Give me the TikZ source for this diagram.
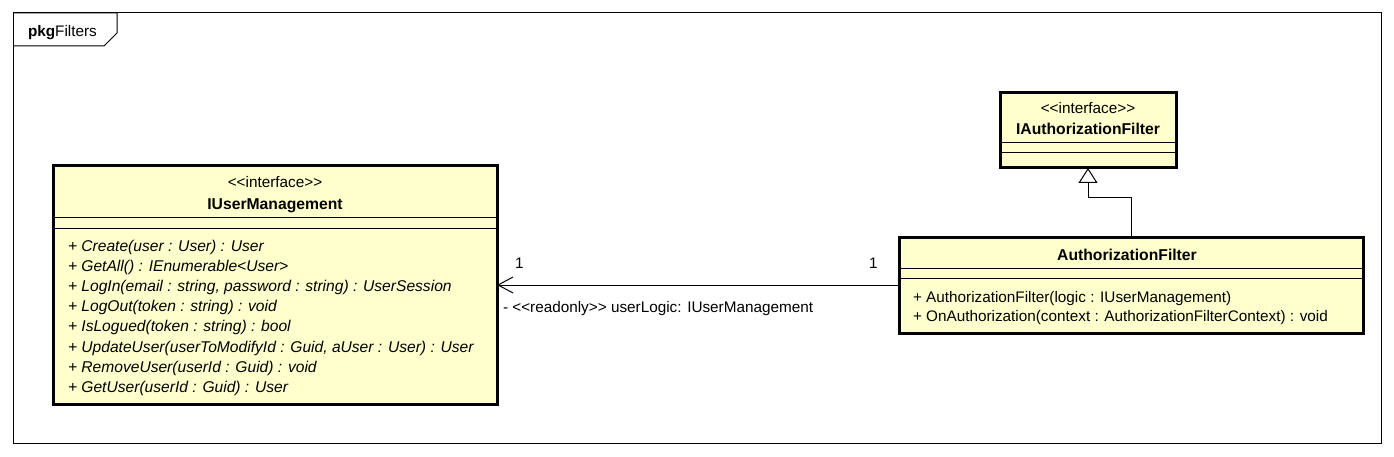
\documentclass[tikz,border=0pt]{standalone}
\usepackage{fontspec}
\setmainfont{Liberation Sans}
\usetikzlibrary{arrows.meta}
\definecolor{classfill}{RGB}{255,255,206}
\tikzset{
  classbox/.style={draw=black, line width=3pt, fill=classfill, inner sep=0pt, outer sep=0pt},
  sepline/.style={line width=1pt, draw=black},
  txt/.style={inner sep=0pt, outer sep=0pt, font=\fontsize{15.3}{20}\selectfont},
  btxt/.style={inner sep=0pt, outer sep=0pt, font=\fontsize{15.7}{20}\selectfont\bfseries},
  itxt/.style={inner sep=0pt, outer sep=0pt, font=\fontsize{15.6}{20}\selectfont\itshape},
  conn/.style={line width=1pt, draw=black},
}
\begin{document}
\begin{tikzpicture}[x=1pt,y=-1pt]
\useasboundingbox (0,0) rectangle (1394,457);
% package frame
\draw[line width=1pt] (13,13) rectangle (1381,443);
\draw[line width=1pt] (13,13) -- (117,13) -- (117,33) -- (104,46) -- (13,46);
\node[txt, anchor=base west] (pkg) at (28,37) {\textbf{pkg}Filters};

% IUserManagement
\node[classbox, minimum width=444pt, minimum height=238pt] (ium) at (275,285) {};
\draw[sepline] (ium.west |- 0,217) -- (ium.east |- 0,217);
\draw[sepline] (ium.west |- 0,228) -- (ium.east |- 0,228);
\node[txt, anchor=base] (iumst) at (275,188) {<{}<interface>{}>};
\node[btxt, anchor=base] (iumname) at (275,210) {IUserManagement};
\node[itxt, anchor=base west] (m1) at (68,251) {+ Create(user : User) : User};
\node[itxt, anchor=base west] (m2) at (68,271) {+ GetAll() : IEnumerable<User>};
\node[itxt, anchor=base west] (m3) at (68,291) {+ LogIn(email : string, password : string) : UserSession};
\node[itxt, anchor=base west] (m4) at (68,311) {+ LogOut(token : string) : void};
\node[itxt, anchor=base west] (m5) at (68,331) {+ IsLogued(token : string) : bool};
\node[itxt, anchor=base west] (m6) at (68,352) {+ UpdateUser(userToModifyId : Guid, aUser : User) : User};
\node[itxt, anchor=base west] (m7) at (68,372) {+ RemoveUser(userId : Guid) : void};
\node[itxt, anchor=base west] (m8) at (68,392) {+ GetUser(userId : Guid) : User};

% IAuthorizationFilter
\node[classbox, minimum width=176pt, minimum height=75pt] (iaf) at (1088,130.5) {};
\draw[sepline] (iaf.west |- 0,143) -- (iaf.east |- 0,143);
\draw[sepline] (iaf.west |- 0,153) -- (iaf.east |- 0,153);
\node[txt, anchor=base] (iafst) at (1088,114) {<{}<interface>{}>};
\node[btxt, anchor=base] (iafname) at (1088,135) {IAuthorizationFilter};

% AuthorizationFilter
\node[classbox, minimum width=464pt, minimum height=96pt] (af) at (1131,285) {};
\draw[sepline] (af.west |- 0,268) -- (af.east |- 0,268);
\draw[sepline] (af.west |- 0,278) -- (af.east |- 0,278);
\node[btxt, anchor=base] (afname) at (1127,260) {AuthorizationFilter};
\node[txt, anchor=base west] (afm1) at (913,302) {+ AuthorizationFilter(logic : IUserManagement)};
\node[txt, anchor=base west] (afm2) at (913,321) {+ OnAuthorization(context : AuthorizationFilterContext) : void};

% generalization
\draw[conn, -{Triangle[open, length=15pt, width=19pt, line width=1pt]}] (af.north) -- ++(0,-39) -| (iaf.south);

% association
\draw[conn, -{Straight Barb[length=15pt, width=16pt, line width=1pt]}] (af.west) -- (ium.east);
\node[txt, anchor=base west] (m1l) at (515,268) {1};
\node[txt, anchor=base west] (m1r) at (869,268) {1};
\node[txt, anchor=base west] (attr) at (503,312) {- <{}<readonly>{}> userLogic: IUserManagement};
\end{tikzpicture}
\end{document}
